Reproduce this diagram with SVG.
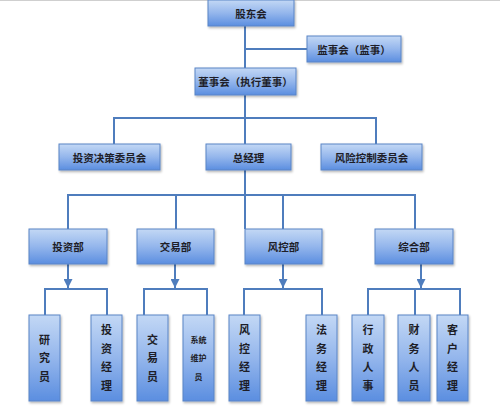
<svg xmlns="http://www.w3.org/2000/svg" width="500" height="406" viewBox="0 0 500 406">
<defs>
<linearGradient id="g" x1="0" y1="0" x2="0" y2="1">
<stop offset="0" stop-color="#c3d8f5"/>
<stop offset="0.5" stop-color="#94b6ec"/>
<stop offset="1" stop-color="#5b8ee0"/>
</linearGradient>
<filter id="sh" x="-10%" y="-10%" width="130%" height="130%">
<feDropShadow dx="1" dy="1.5" stdDeviation="1" flood-color="#000" flood-opacity="0.3"/>
</filter>
<marker id="arr" viewBox="0 0 10 10" refX="10" refY="5" markerWidth="4.5" markerHeight="4.5" orient="auto" markerUnits="strokeWidth">
<path d="M0,0 L10,5 L0,10 z" fill="#4f7dbd"/>
</marker>
</defs>
<style>
.box{fill:url(#g);stroke:#5a85c6;stroke-width:1;filter:url(#sh)}
.t{font-family:"Noto Sans CJK SC","Noto Sans",sans-serif;font-weight:700;font-size:10.5px;fill:#1e1e28;text-anchor:middle;dominant-baseline:central}
.v{font-size:11px}
.s{font-size:8px}
.ln{fill:none;stroke:#4f7dbd;stroke-width:2}
</style>
<rect x="0" y="0" width="500" height="406" fill="#ffffff"/>
<line x1="0" y1="0.5" x2="500" y2="0.5" stroke="#cfcfcf" stroke-width="1"/>
<g id="connectors">
<path class="ln" d="M245,26 V68 M245,49 H307 M245,95 V144 M114,144 V118 H376 V144 M245,170 V229 M68,229 V195 H415 V229 M176,195 V229 M283,195 V229"/>
<path class="ln" d="M68,264 V288" marker-end="url(#arr)"/>
<path class="ln" d="M175,264 V288" marker-end="url(#arr)"/>
<path class="ln" d="M283,264 V288" marker-end="url(#arr)"/>
<path class="ln" d="M421,264 V288" marker-end="url(#arr)"/>
<path class="ln" d="M45,315 V289 H107 V315 M144,315 V289 H207 V315 M244,315 V289 H322 V315 M368,315 V289 H460 V315 M415,289 V315"/>
</g>
<g id="n-gudong"><rect class="box" x="208" y="0" width="86" height="26"/><text class="t" x="251" y="13">股东会</text></g>
<g id="n-jianshi"><rect class="box" x="307" y="36" width="94" height="26"/><text class="t" x="354" y="49">监事会（监事）</text></g>
<g id="n-dongshi"><rect class="box" x="195" y="68" width="101" height="27"/><text class="t" x="245.5" y="81.5">董事会（执行董事）</text></g>
<g id="n-touzijuece"><rect class="box" x="59" y="144" width="101" height="26"/><text class="t" x="109.5" y="157">投资决策委员会</text></g>
<g id="n-zongjingli"><rect class="box" x="206" y="144" width="85" height="26"/><text class="t" x="248.5" y="157">总经理</text></g>
<g id="n-fengxian"><rect class="box" x="321" y="144" width="101" height="26"/><text class="t" x="371.5" y="157">风险控制委员会</text></g>
<g id="n-touzibu"><rect class="box" x="29" y="229" width="78" height="35"/><text class="t" x="68" y="246.5">投资部</text></g>
<g id="n-jiaoyibu"><rect class="box" x="137" y="229" width="77" height="35"/><text class="t" x="175.5" y="246.5">交易部</text></g>
<g id="n-fengkongbu"><rect class="box" x="245" y="229" width="77" height="35"/><text class="t" x="283.5" y="246.5">风控部</text></g>
<g id="n-zonghebu"><rect class="box" x="375" y="229" width="78" height="35"/><text class="t" x="414" y="246.5">综合部</text></g>
<g id="n-yanjiuyuan"><rect class="box" x="29" y="315" width="31" height="86"/><text class="t v" x="44.5"><tspan x="44.5" y="338.5">研</tspan><tspan x="44.5" y="357">究</tspan><tspan x="44.5" y="375.5">员</tspan></text></g>
<g id="n-touzijingli"><rect class="box" x="91" y="315" width="31" height="86"/><text class="t v" x="106.5"><tspan x="106.5" y="329">投</tspan><tspan x="106.5" y="347.5">资</tspan><tspan x="106.5" y="366">经</tspan><tspan x="106.5" y="384.5">理</tspan></text></g>
<g id="n-jiaoyiyuan"><rect class="box" x="137" y="315" width="31" height="86"/><text class="t v" x="152.5"><tspan x="152.5" y="338.5">交</tspan><tspan x="152.5" y="357">易</tspan><tspan x="152.5" y="375.5">员</tspan></text></g>
<g id="n-xitong"><rect class="box" x="183" y="315" width="31" height="86"/><text class="t s" x="198.5"><tspan x="198.5" y="338.5">系统</tspan><tspan x="198.5" y="357">维护</tspan><tspan x="198.5" y="375.5">员</tspan></text></g>
<g id="n-fengkongjingli"><rect class="box" x="229" y="315" width="31" height="86"/><text class="t v" x="244.5"><tspan x="244.5" y="329">风</tspan><tspan x="244.5" y="347.5">控</tspan><tspan x="244.5" y="366">经</tspan><tspan x="244.5" y="384.5">理</tspan></text></g>
<g id="n-fawujingli"><rect class="box" x="306" y="315" width="31" height="86"/><text class="t v" x="321.5"><tspan x="321.5" y="329">法</tspan><tspan x="321.5" y="347.5">务</tspan><tspan x="321.5" y="366">经</tspan><tspan x="321.5" y="384.5">理</tspan></text></g>
<g id="n-xingzheng"><rect class="box" x="352" y="315" width="32" height="86"/><text class="t v" x="368"><tspan x="368" y="329">行</tspan><tspan x="368" y="347.5">政</tspan><tspan x="368" y="366">人</tspan><tspan x="368" y="384.5">事</tspan></text></g>
<g id="n-caiwu"><rect class="box" x="398" y="315" width="32" height="86"/><text class="t v" x="414"><tspan x="414" y="329">财</tspan><tspan x="414" y="347.5">务</tspan><tspan x="414" y="366">人</tspan><tspan x="414" y="384.5">员</tspan></text></g>
<g id="n-kehu"><rect class="box" x="437" y="315" width="31" height="86"/><text class="t v" x="452.5"><tspan x="452.5" y="329">客</tspan><tspan x="452.5" y="347.5">户</tspan><tspan x="452.5" y="366">经</tspan><tspan x="452.5" y="384.5">理</tspan></text></g>
</svg>
